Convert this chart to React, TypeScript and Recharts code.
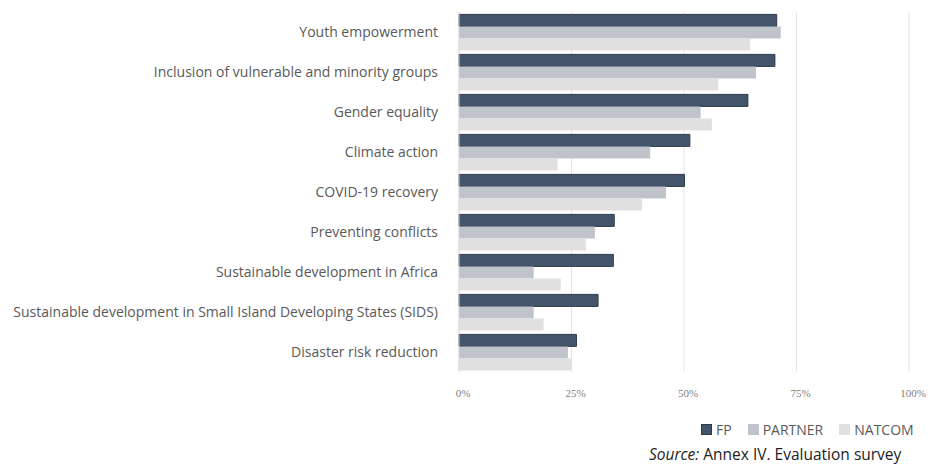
import React from 'react';
import { BarChart, Bar, XAxis, YAxis, CartesianGrid } from 'recharts';

const categories = [
  'Youth empowerment',
  'Inclusion of vulnerable and minority groups',
  'Gender equality',
  'Climate action ',
  'COVID-19 recovery',
  'Preventing conflicts',
  'Sustainable development in Africa ',
  'Sustainable development in Small Island Developing States (SIDS)',
  'Disaster risk reduction',
];

const fpValues = [70.6, 70.2, 64.2, 51.3, 50.1, 34.5, 34.3, 30.9, 26.1];
const partnerValues = [71.5, 66.0, 53.7, 42.5, 46.0, 30.2, 16.6, 16.6, 24.2];
const natcomValues = [64.7, 57.6, 56.2, 21.9, 40.7, 28.2, 22.6, 18.8, 25.1];

const xTicks = [0, 25, 50, 75, 100];

const series = [
  { key: 'fp', name: 'FP', color: '#44546a', stroke: '#2e3a4a' },
  { key: 'partner', name: 'PARTNER', color: '#bfc3cc', stroke: 'none' },
  { key: 'natcom', name: 'NATCOM', color: '#e0e0e0', stroke: 'none' },
];

const data = categories.map((name, i) => ({
  name,
  fp: fpValues[i],
  partner: partnerValues[i],
  natcom: natcomValues[i],
}));

const sans = '"Open Sans", "Noto Sans", sans-serif';

export default function App() {
  return (
    <div style={{ position: 'absolute', left: 0, top: 0, width: 931, height: 464, background: '#fff' }}>
      <BarChart
        width={931}
        height={402}
        data={data}
        layout="vertical"
        margin={{ top: 12, right: 22, bottom: 0, left: 0 }}
        barCategoryGap="6%"
        barGap={0}
      >
        <CartesianGrid horizontal={false} stroke="#e4e4e4" />
        <XAxis
          type="number"
          domain={[0, 100]}
          ticks={xTicks}
          tickFormatter={(v: number) => `${v}%`}
          axisLine={false}
          tickLine={false}
          height={30}
          tick={{ fontSize: 11, fill: '#7f7f7f', fontFamily: '"Liberation Serif", serif', dx: 4 }}
          tickMargin={11}
        />
        <YAxis
          type="category"
          dataKey="name"
          width={459}
          axisLine={{ stroke: '#d9d9d9' }}
          tickLine={false}
          tickMargin={15}
          interval={0}
          tick={{ fontSize: 14, fill: '#595959', fontFamily: sans }}
        />
        {series.map((s) => (
          <Bar
            key={s.key}
            dataKey={s.key}
            name={s.name}
            fill={s.color}
            stroke={s.stroke}
            strokeWidth={1}
            isAnimationActive={false}
          />
        ))}
      </BarChart>
      <div
        style={{
          position: 'absolute',
          top: 420,
          left: 701,
          display: 'flex',
          alignItems: 'center',
          fontFamily: sans,
          fontSize: 14,
          color: '#595959',
        }}
      >
        {series.map((s) => (
          <div key={s.key} style={{ display: 'flex', alignItems: 'center', marginRight: 16 }}>
            <span
              style={{
                display: 'inline-block',
                width: 11,
                height: 11,
                background: s.color,
                border: s.stroke === 'none' ? 'none' : `1px solid ${s.stroke}`,
                boxSizing: 'border-box',
                marginRight: 4,
              }}
            />
            <span>{s.name}</span>
          </div>
        ))}
      </div>
      <div
        style={{
          position: 'absolute',
          top: 443,
          left: 649,
          fontFamily: sans,
          fontSize: 15.5,
          color: '#222',
          whiteSpace: 'nowrap',
        }}
      >
        <i>Source:</i> Annex IV. Evaluation survey
      </div>
    </div>
  );
}
